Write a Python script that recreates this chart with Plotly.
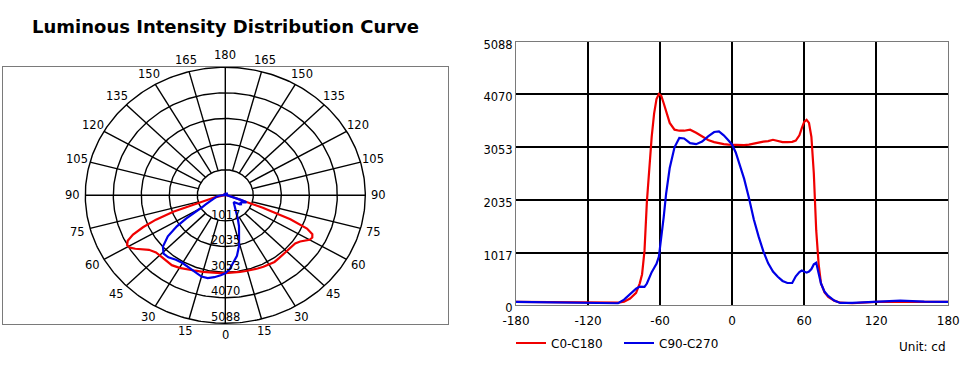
import numpy as np
import plotly.graph_objects as go

# ---------------- data ----------------
angles = [-180, -150, -120, -100, -95, -90, -85, -80, -77, -75, -73, -71, -69, -67, -65,
          -63, -61, -59, -57, -55, -52, -48, -44, -40, -35, -30, -25, -20, -15, -11, -7,
          -3, 0, 3, 6, 10, 14, 18, 22, 26, 30, 34, 38, 42, 46, 50, 53, 56, 58, 60, 62,
          64, 66, 68, 70, 72, 74, 77, 80, 85, 90, 100, 120, 140, 160, 180]

c0_c180 = [65, 60, 55, 40, 50, 70, 130, 240, 420, 600, 1050, 2000, 2700, 3250, 3700,
           3980, 4080, 4040, 3900, 3750, 3520, 3390, 3370, 3370, 3390, 3330, 3260, 3190,
           3150, 3125, 3110, 3100, 3095, 3090, 3088, 3090, 3100, 3115, 3140, 3160, 3170,
           3195, 3170, 3150, 3150, 3155, 3180, 3280, 3420, 3540, 3580, 3520, 3250, 2550,
           1450, 800, 420, 250, 160, 90, 50, 40, 65, 65, 65, 65]

c90_c270 = [65, 60, 50, 40, 40, 110, 220, 320, 360, 360, 355, 420, 540, 640, 720,
            800, 940, 1300, 1700, 2150, 2650, 3050, 3230, 3220, 3130, 3110, 3160, 3260,
            3345, 3355, 3280, 3180, 3100, 2950, 2720, 2440, 2070, 1660, 1330, 1040, 810,
            650, 550, 470, 430, 430, 560, 640, 670, 650, 630, 650, 700, 790, 820, 620,
            420, 260, 180, 90, 45, 45, 70, 90, 70, 65]

series_names = ["C0-C180", "C90-C270"]
series_colors = ["#f00000", "#0000e6"]

ring_values = [1017, 2035, 3053, 4070, 5088]
ring_labels = ["1017", "2035", "3053", "4070", "5088"]
x_ticks = [-180, -120, -60, 0, 60, 120, 180]
angle_label_values = [0, 15, 30, 45, 60, 75, 90, 105, 120, 135, 150, 165, 180]

title_text = "Luminous Intensity Distribution Curve"
unit_text = "Unit: cd"

R_MAX = ring_values[-1]
W, H = 970, 367
FONT = "DejaVu Sans"

# polar frame geometry (pixels)
box_l, box_r, box_t, box_b = 3, 448, 67, 324
cx, cy = 225.3, 195.3
px_per_cd_x = 140 / R_MAX
px_per_cd_y = 128 / R_MAX


def to_xy(theta_deg, r):
    t = np.radians(np.asarray(theta_deg, dtype=float))
    r = np.asarray(r, dtype=float)
    return r * np.sin(t), -r * np.cos(t)


def to_paper(x, y):
    return (cx + x * px_per_cd_x) / W, 1 - (cy - y * px_per_cd_y) / H


fig = go.Figure()

# ---------------- polar grid (drawn on cartesian axes x/y) ----------------
grid_line = dict(color="black", width=1.4)
phi = np.linspace(0, 360, 361)
for rv in ring_values:
    gx, gy = to_xy(phi, np.full_like(phi, rv))
    fig.add_trace(go.Scatter(x=gx, y=gy, mode="lines", line=grid_line,
                             hoverinfo="skip", showlegend=False, xaxis="x", yaxis="y"))

sx, sy = [], []
for a in range(-165, 180, 15):
    if a % 90 == 0:
        continue
    xs, ys = to_xy([a, a], [ring_values[0], R_MAX])
    sx += list(xs) + [None]
    sy += list(ys) + [None]
for a in (0, 90):
    xs, ys = to_xy([a, a + 180], [R_MAX, R_MAX])
    sx += list(xs) + [None]
    sy += list(ys) + [None]
fig.add_trace(go.Scatter(x=sx, y=sy, mode="lines", line=grid_line,
                         hoverinfo="skip", showlegend=False, xaxis="x", yaxis="y"))

# polar curves
for vals, name, col in zip([c0_c180, c90_c270], series_names, series_colors):
    px_, py_ = to_xy(angles, vals)
    fig.add_trace(go.Scatter(x=px_, y=py_, mode="lines", line=dict(color=col, width=2.2),
                             showlegend=False, name=name, xaxis="x", yaxis="y"))

# ---------------- cartesian chart ----------------
for vals, name, col in zip([c0_c180, c90_c270], series_names, series_colors):
    fig.add_trace(go.Scatter(x=angles, y=vals, mode="lines", name=name,
                             line=dict(color=col, width=2.2), xaxis="x2", yaxis="y2"))

# ---------------- annotations ----------------
ann = []
ann.append(dict(text="<b>%s</b>" % title_text, x=225.5 / W, y=1 - 27 / H, xref="paper", yref="paper",
                showarrow=False, font=dict(family=FONT, size=18, color="black"),
                xanchor="center", yanchor="middle"))
ann.append(dict(text=unit_text, x=948 / W, y=1 - 347 / H, xref="paper", yref="paper",
                showarrow=False, font=dict(family=FONT, size=12, color="black"),
                xanchor="right", yanchor="middle"))

# angular labels around the polar diagram (both sides)
lab_r = R_MAX * 1.095
done = set()
for a in angle_label_values:
    for s in (-1, 1):
        th = s * a
        key = round(np.sin(np.radians(th)), 6), round(np.cos(np.radians(th)), 6)
        if key in done:
            continue
        done.add(key)
        lx, ly = to_xy([th], [lab_r])
        ax_, ay_ = to_paper(float(lx[0]), float(ly[0]))
        ann.append(dict(text=str(a), x=ax_, y=ay_, xref="paper", yref="paper",
                        showarrow=False, font=dict(family=FONT, size=11.5, color="black"),
                        xanchor="center", yanchor="middle"))

# radial value labels along the downward axis
for rv, rl in zip(ring_values, ring_labels):
    ax_, ay_ = to_paper(0.0, -(rv - 250.0))
    ann.append(dict(text=rl, x=ax_, y=ay_, xref="paper", yref="paper", showarrow=False,
                    font=dict(family=FONT, size=11.5, color="black"),
                    xanchor="center", yanchor="middle"))

# ---------------- layout ----------------
fig.update_layout(
    width=W, height=H,
    margin=dict(l=0, r=0, t=0, b=0, autoexpand=False),
    paper_bgcolor="white", plot_bgcolor="white",
    font=dict(family=FONT, size=11.5, color="black"),
    showlegend=True,
    legend=dict(orientation="h", x=511 / W, y=1 - 343 / H, xanchor="left", yanchor="middle",
                bgcolor="rgba(0,0,0,0)", font=dict(family=FONT, size=12, color="black"),
                itemwidth=30, tracegroupgap=0, entrywidth=63, entrywidthmode="pixels"),
    annotations=ann,
    xaxis=dict(domain=[box_l / W, box_r / W], automargin=False,
               range=[(box_l - cx) / px_per_cd_x, (box_r - cx) / px_per_cd_x],
               showgrid=False, zeroline=False, showticklabels=False, ticks="",
               showline=True, mirror=True, linecolor="#7a7a7a", linewidth=1),
    yaxis=dict(domain=[1 - box_b / H, 1 - box_t / H], automargin=False,
               range=[-(box_b - cy) / px_per_cd_y, (cy - box_t) / px_per_cd_y],
               showgrid=False, zeroline=False, showticklabels=False, ticks="",
               showline=True, mirror=True, linecolor="#7a7a7a", linewidth=1),
    xaxis2=dict(domain=[516 / W, 948.3 / W], anchor="y2", range=[-180, 180], automargin=False,
                tickvals=x_ticks, ticktext=[str(v) for v in x_ticks],
                showgrid=True, gridcolor="black", gridwidth=1.5, zeroline=False,
                showline=True, mirror=True, linecolor="#7a7a7a", linewidth=1, ticks="",
                ticklabelstandoff=4,
                tickfont=dict(family=FONT, size=12, color="black")),
    yaxis2=dict(domain=[1 - 305.3 / H, 1 - 41.7 / H], anchor="x2", range=[0, R_MAX], automargin=False,
                tickvals=[0] + ring_values, ticktext=["0"] + ring_labels,
                showgrid=True, gridcolor="black", gridwidth=1.5, zeroline=False,
                showline=True, mirror=True, linecolor="#7a7a7a", linewidth=1, ticks="",
                ticklabelstandoff=0, ticklabelshift=3,
                tickfont=dict(family=FONT, size=11.5, color="black")),
)

fig.write_html("out.html", config={"displayModeBar": False},
               post_script="document.body.style.margin='0px';document.body.style.overflow='hidden';")
